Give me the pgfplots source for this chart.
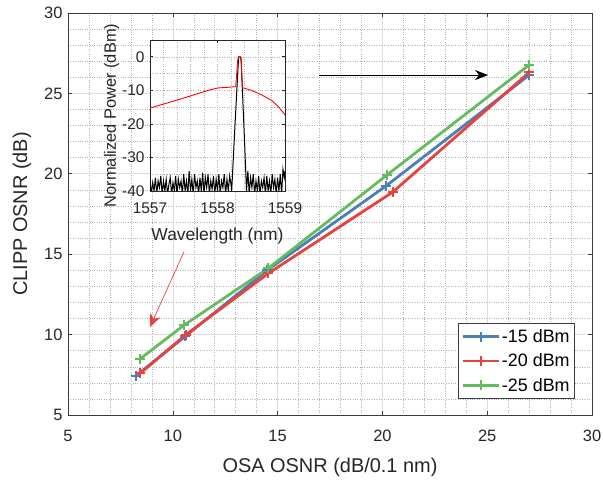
\documentclass[border=0pt]{standalone}
\usepackage{pgfplots}
\pgfplotsset{compat=1.18}
\usepackage{fontspec}
\setmainfont{Liberation Sans}
\usetikzlibrary{arrows.meta}
\definecolor{cblue}{RGB}{74,128,184}
\definecolor{cred}{RGB}{232,65,63}
\definecolor{cgreen}{RGB}{102,187,95}
\definecolor{axgray}{RGB}{60,60,60}
\begin{document}
\begin{tikzpicture}
\begin{axis}[
  name=main,
  scale only axis, width=524bp, height=402bp,
  xmin=5, xmax=30, ymin=5, ymax=30,
  xtick={5,10,...,30}, ytick={5,10,...,30},
  minor tick num=4,
  minor tick length=0pt,
  major tick length=4bp,
  tick align=inside,
  grid=both,
  major grid style={solid, color=black!13, line width=0.6pt},
  minor grid style={dotted, color=black!30, line width=0.5pt},
  axis line style={color=axgray, line width=0.6pt},
  tick style={color=axgray, line width=0.6pt},
  ticklabel style={font=\fontsize{16.5}{18}\selectfont, color=black!85},
  x tick label style={yshift=-12bp},
  y tick label style={xshift=-2bp},
  /pgf/number format/assume math mode=true,
  xlabel={OSA OSNR (dB/0.1 nm)},
  ylabel={CLIPP OSNR (dB)},
  label style={font=\fontsize{20}{22}\selectfont, color=black!85},
  xlabel style={yshift=-9bp},
  ylabel style={yshift=6bp},
  legend style={at={(1,0)}, anchor=south east, xshift=-17bp, yshift=16bp,
    font=\fontsize{18}{20}\selectfont, draw=axgray, line width=0.6pt,
    row sep=6bp, inner xsep=3bp, inner ysep=4bp},
  legend cell align=left,
  legend image code/.code={\draw[mark repeat=2, mark phase=2, #1] plot coordinates {(0bp,0bp) (18bp,0bp) (36bp,0bp)};},
]
\addplot[cblue, line width=2.8pt, mark=+, mark size=5bp, mark options={line width=2pt}] coordinates {
(8.24,7.43) (10.6,9.9) (14.5,14.0) (20.17,19.24) (27.0,26.14)};
\addlegendentry{-15 dBm}
\addplot[cred, line width=2.8pt, mark=+, mark size=5bp, mark options={line width=2pt}] coordinates {
(8.45,7.6) (10.63,10.0) (14.55,13.8) (20.5,18.87) (27.0,26.3)};
\addlegendentry{-20 dBm}
\addplot[cgreen, line width=2.8pt, mark=+, mark size=5bp, mark options={line width=2pt}] coordinates {
(8.45,8.5) (10.55,10.6) (14.55,14.12) (20.22,19.93) (27.0,26.77)};
\addlegendentry{-25 dBm}
\draw[cred, line width=0.7pt, -{Triangle[length=13bp, width=11bp, inset=4bp]}] (axis cs:10.53,15.14) -- (axis cs:8.91,10.47);
\draw[black, line width=0.7pt, -{Triangle[length=13bp, width=10bp, inset=4bp]}] (axis cs:16.98,26.14) -- (axis cs:25.04,26.14);
\end{axis}
\begin{axis}[
  at={(82bp,224bp)}, anchor=south west,
  scale only axis, width=135bp, height=151bp,
  xmin=1557, xmax=1559, ymin=-40, ymax=5,
  xtick={1557,1558,1559}, ytick={-40,-30,...,0},
  minor x tick num=4, minor y tick num=1,
  minor tick length=0pt,
  major tick length=3bp,
  tick align=inside,
  grid=both,
  axis background/.style={fill=white},
  major grid style={dotted, color=black!30, line width=0.5pt},
  minor grid style={dotted, color=black!30, line width=0.5pt},
  axis line style={color=black!85, line width=0.6pt},
  tick style={color=black!85, line width=0.6pt},
  ticklabel style={font=\fontsize{15.5}{17}\selectfont, color=black!85},
  x tick label style={yshift=-8bp},
  y tick label style={xshift=-2bp},
  /pgf/number format/assume math mode=true,
  x tick label style={/pgf/number format/set thousands separator={}},
  xlabel={Wavelength (nm)},
  ylabel={Normalized Power (dBm)},
  xlabel style={font=\fontsize{17.5}{19}\selectfont, color=black!85, yshift=-8bp},
  ylabel style={font=\fontsize{16.5}{18}\selectfont, color=black!85, yshift=-4bp},
  clip=true,
]
\addplot[black, line width=1pt] coordinates {
(1557.00,-36.5) (1557.02,-41) (1557.04,-37.5) (1557.06,-40) (1557.08,-36) (1557.10,-41)
(1557.12,-37) (1557.14,-39) (1557.16,-35.5) (1557.18,-41) (1557.20,-37) (1557.22,-40)
(1557.24,-36.5) (1557.26,-41) (1557.28,-38) (1557.30,-36) (1557.32,-41) (1557.34,-37.5)
(1557.36,-40) (1557.38,-35.5) (1557.40,-41) (1557.42,-36.5) (1557.44,-39) (1557.46,-37)
(1557.48,-41) (1557.50,-35) (1557.52,-40) (1557.54,-37) (1557.56,-41) (1557.58,-34)
(1557.60,-40) (1557.62,-36.5) (1557.64,-41) (1557.66,-35) (1557.68,-39) (1557.70,-37)
(1557.72,-41) (1557.74,-36) (1557.76,-40) (1557.78,-34.5) (1557.80,-41) (1557.82,-36)
(1557.84,-39) (1557.86,-35) (1557.88,-41) (1557.90,-37) (1557.92,-39.5) (1557.94,-35.5)
(1557.96,-41) (1557.98,-36.5) (1558.00,-40) (1558.02,-35) (1558.04,-41) (1558.06,-37)
(1558.08,-39) (1558.10,-35) (1558.12,-41) (1558.14,-36.5) (1558.16,-40) (1558.18,-35.5)
(1558.20,-38) (1558.21,-40) (1558.26,-20) (1558.31,-1) (1558.315,0) (1558.34,0)
(1558.35,-1) (1558.39,-20) (1558.43,-40)
(1558.45,-34) (1558.47,-41) (1558.49,-36) (1558.51,-39) (1558.53,-35) (1558.55,-41)
(1558.57,-37) (1558.59,-40) (1558.61,-35.5) (1558.63,-41) (1558.65,-37) (1558.67,-39)
(1558.69,-36) (1558.71,-41) (1558.73,-35.5) (1558.75,-40) (1558.77,-37) (1558.79,-41)
(1558.81,-35) (1558.83,-39) (1558.85,-36.5) (1558.87,-41) (1558.89,-36) (1558.91,-40)
(1558.93,-35) (1558.95,-41) (1558.97,-33.5) (1558.99,-36) (1559.00,-34)};
\addplot[red, line width=0.9pt] coordinates {
(1557.00,-15.3) (1557.25,-13.8) (1557.50,-12.3) (1557.75,-10.7) (1557.90,-9.8)
(1558.00,-9.3) (1558.15,-9.1) (1558.27,-8.9) (1558.30,-1) (1558.31,0) (1558.34,0)
(1558.35,-1) (1558.37,-9.2) (1558.50,-10.0) (1558.64,-11.2) (1558.80,-13.0)
(1558.90,-14.8) (1559.00,-17.3)};
\end{axis}
\pgfresetboundingbox
\path[use as bounding box] (-68bp,-65bp) rectangle (535bp,415bp);
\end{tikzpicture}
\end{document}
